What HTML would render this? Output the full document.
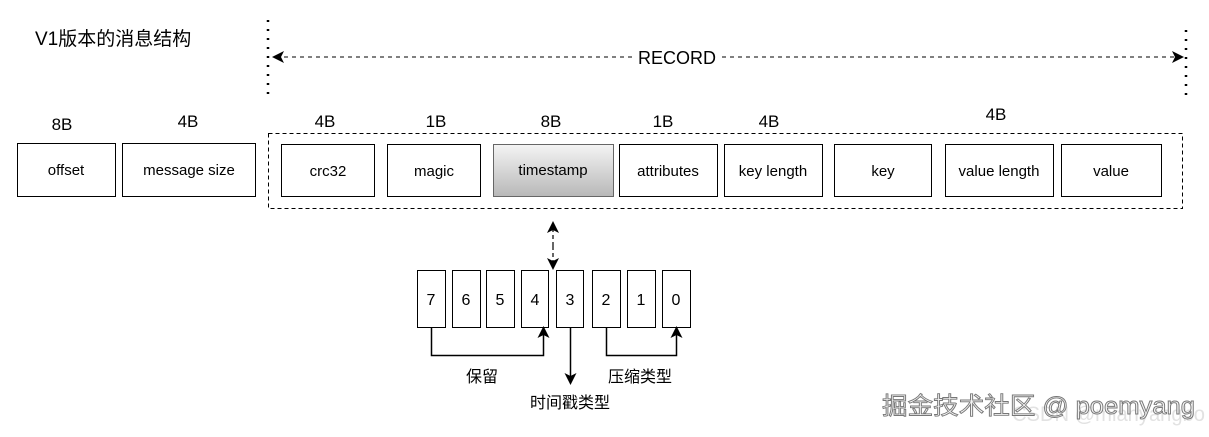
<!DOCTYPE html>
<html><head><meta charset="utf-8"><style>
html,body{margin:0;padding:0;background:#fff;}
svg{display:block;}
text{font-family:"Liberation Sans","Noto Sans CJK SC",sans-serif;fill:#000;}
</style></head><body>
<svg width="1209" height="437" viewBox="0 0 1209 437" xmlns="http://www.w3.org/2000/svg">
<defs>
<linearGradient id="g" x1="0" y1="0" x2="0" y2="1"><stop offset="0" stop-color="#f4f4f4"/><stop offset="1" stop-color="#b8b8b8"/></linearGradient>
<marker id="a" markerWidth="12" markerHeight="12" refX="10" refY="6" orient="auto" markerUnits="userSpaceOnUse"><path d="M0,0 L12,6 L0,12 L3,6 Z" fill="#000"/></marker>
</defs>
<text x="35" y="45" font-size="19">V1版本的消息结构</text>
<line x1="268" y1="20" x2="268" y2="95" stroke="#000" stroke-width="2.5" stroke-dasharray="2,7"/>
<line x1="1186" y1="30" x2="1186" y2="102" stroke="#000" stroke-width="2.5" stroke-dasharray="2,7"/>
<line x1="632" y1="57" x2="274" y2="57" stroke="#000" stroke-dasharray="4,4" marker-end="url(#a)"/>
<line x1="722" y1="57" x2="1182" y2="57" stroke="#000" stroke-dasharray="4,4" marker-end="url(#a)"/>
<text x="677" y="64" font-size="18" text-anchor="middle">RECORD</text>
<g font-size="17" text-anchor="middle">
<text x="62" y="130">8B</text><text x="188" y="127">4B</text><text x="325" y="127">4B</text><text x="436" y="127">1B</text><text x="551" y="127">8B</text><text x="663" y="127">1B</text><text x="769" y="127">4B</text><text x="996" y="120">4B</text>
</g>
<rect x="268.5" y="133.5" width="914" height="75" fill="none" stroke="#000" stroke-dasharray="4,3"/>
<g fill="#fff" stroke="#000" stroke-width="1">
<rect x="17.5" y="143.5" width="98" height="53"/>
<rect x="122.5" y="143.5" width="133" height="53"/>
<rect x="281.5" y="144.5" width="93" height="52"/>
<rect x="387.5" y="144.5" width="93" height="52"/>
<rect x="493.5" y="144.5" width="120" height="52" fill="url(#g)" stroke="#666"/>
<rect x="619.5" y="144.5" width="98" height="52"/>
<rect x="724.5" y="144.5" width="98" height="52"/>
<rect x="834.5" y="144.5" width="97" height="52"/>
<rect x="945.5" y="144.5" width="108" height="52"/>
<rect x="1061.5" y="144.5" width="100" height="52"/>
</g>
<g font-size="15" text-anchor="middle">
<text x="66" y="175">offset</text><text x="189" y="175">message size</text><text x="328" y="176">crc32</text><text x="434" y="176">magic</text><text x="553" y="175">timestamp</text><text x="668" y="176">attributes</text><text x="773" y="176">key length</text><text x="883" y="176">key</text><text x="999" y="176">value length</text><text x="1111" y="176">value</text>
</g>
<line x1="553" y1="246" x2="553" y2="223" stroke="#000" stroke-width="1.2" stroke-dasharray="4,3" marker-end="url(#a)"/>
<line x1="553" y1="246" x2="553" y2="268" stroke="#000" stroke-width="1.2" stroke-dasharray="4,3" marker-end="url(#a)"/>
<g fill="#fff" stroke="#000">
<rect x="417.5" y="270.5" width="28" height="57"/><rect x="452.5" y="270.5" width="28" height="57"/><rect x="486.5" y="270.5" width="28" height="57"/><rect x="521.5" y="270.5" width="27" height="57"/><rect x="556.5" y="270.5" width="27" height="57"/><rect x="592.5" y="270.5" width="28" height="57"/><rect x="627.5" y="270.5" width="28" height="57"/><rect x="662.5" y="270.5" width="28" height="57"/>
</g>
<g font-size="16" text-anchor="middle">
<text x="431" y="305">7</text><text x="466" y="305">6</text><text x="500" y="305">5</text><text x="535" y="305">4</text><text x="570" y="305">3</text><text x="606" y="305">2</text><text x="641" y="305">1</text><text x="676" y="305">0</text>
</g>
<g fill="none" stroke="#000" stroke-width="1.5">
<path d="M431.5,328 V355.5 H543.5 V328" marker-end="url(#a)"/>
<path d="M570.5,328 V383" marker-end="url(#a)"/>
<path d="M606.5,328 V355.5 H676.5 V328" marker-end="url(#a)"/>
</g>
<g font-size="16" text-anchor="middle">
<text x="482" y="382">保留</text><text x="640" y="382">压缩类型</text><text x="570" y="408">时间戳类型</text>
</g>
<text x="1012" y="421" font-size="21" textLength="193" lengthAdjust="spacingAndGlyphs" style="fill:#e2e2e2">CSDN @mianyangbo</text>
<text x="882" y="414" font-size="24" textLength="313" lengthAdjust="spacingAndGlyphs" style="fill:#f4f4f4;stroke:#777;stroke-width:0.9">掘金技术社区 @ poemyang</text>
</svg>
</body></html>
